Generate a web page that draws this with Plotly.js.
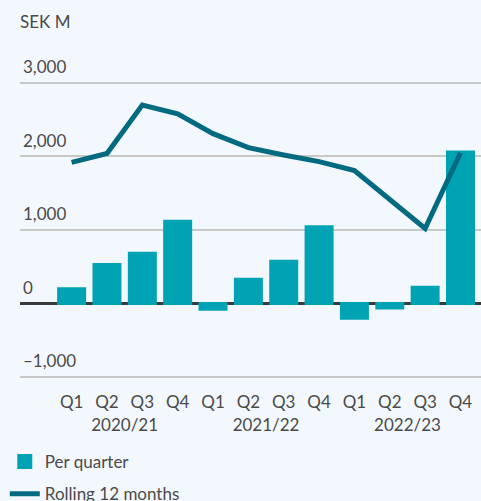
<!DOCTYPE html>
<html>
<head>
<meta charset="utf-8">
<script src="https://cdn.plot.ly/plotly-3.0.1.min.js"></script>
<style>
  html, body { margin: 0; padding: 0; background: #f3f8fe; }
  #chart { width: 481px; height: 501px; }
</style>
</head>
<body>
<div id="chart"></div>
<script>
const years = ['2020/21','2020/21','2020/21','2020/21','2021/22','2021/22','2021/22','2021/22','2022/23','2022/23','2022/23','2022/23'];
const quarters = ['Q1','Q2','Q3','Q4','Q1','Q2','Q3','Q4','Q1','Q2','Q3','Q4'];
const perQuarter = [200, 530, 685, 1120, -80, 330, 575, 1045, -200, -60, 220, 2060];
const rolling12 = [1920, 2040, 2700, 2580, 2310, 2120, 2020, 1930, 1810, 1410, 1020, 2050];
const yTickVals = [-1000, 0, 1000, 2000, 3000];
const yTickText = ['–1,000', '0', '1,000', '2,000', '3,000'];

const textColor = '#4a4a4a';
const fontFam = 'Lato, "Open Sans", sans-serif';

const traces = [
  {
    type: 'bar',
    name: 'Per quarter',
    legendgroup: 'a',
    x: [years, quarters],
    y: perQuarter,
    marker: { color: '#00a3b4', line: { color: '#00a3b4', width: 3 } },
    hoverinfo: 'y'
  },
  {
    type: 'scatter',
    mode: 'lines',
    name: 'Rolling 12 months',
    legendgroup: 'b',
    x: [years, quarters],
    y: rolling12,
    line: { color: '#006b80', width: 5 },
    hoverinfo: 'y'
  }
];

const layout = {
  width: 481,
  height: 501,
  margin: { l: 20, r: 0, t: 81, b: 111 },
  paper_bgcolor: '#f3f8fe',
  plot_bgcolor: '#f3f8fe',
  font: { family: fontFam, size: 17, color: textColor },
  title: {
    text: 'SEK M',
    xref: 'paper', x: 0, xanchor: 'left',
    yref: 'container', y: 1 - 22 / 501, yanchor: 'middle',
    font: { family: fontFam, size: 17, color: textColor }
  },
  bargap: 0.265,
  showlegend: true,
  legend: {
    orientation: 'v',
    xref: 'paper', x: -0.033, xanchor: 'left',
    yref: 'container', y: 1 - 444 / 501, yanchor: 'top',
    bgcolor: 'rgba(0,0,0,0)',
    font: { family: fontFam, size: 17, color: textColor },
    tracegroupgap: 7
  },
  xaxis: {
    type: 'multicategory',
    range: [-1.46, 11.58],
    showdividers: false,
    showgrid: false,
    zeroline: false,
    showline: false,
    ticks: '',
    ticklabeloverflow: 'allow',
    tickfont: { family: fontFam, size: 17, color: textColor },
    automargin: false,
    fixedrange: true
  },
  yaxis: {
    range: [-1177, 3027],
    tickvals: yTickVals,
    ticktext: yTickText,
    ticklabelposition: 'inside top',
    ticklabeloverflow: 'allow',
    ticklabelshift: -4,
    showgrid: true,
    gridcolor: '#c8c8c8',
    gridwidth: 2,
    zeroline: true,
    zerolinecolor: '#3a3a3a',
    zerolinewidth: 3,
    showline: false,
    ticks: '',
    tickfont: { family: fontFam, size: 17, color: textColor },
    automargin: false,
    fixedrange: true
  }
};

Plotly.newPlot('chart', traces, layout, { displayModeBar: false, staticPlot: true });
</script>
</body>
</html>
